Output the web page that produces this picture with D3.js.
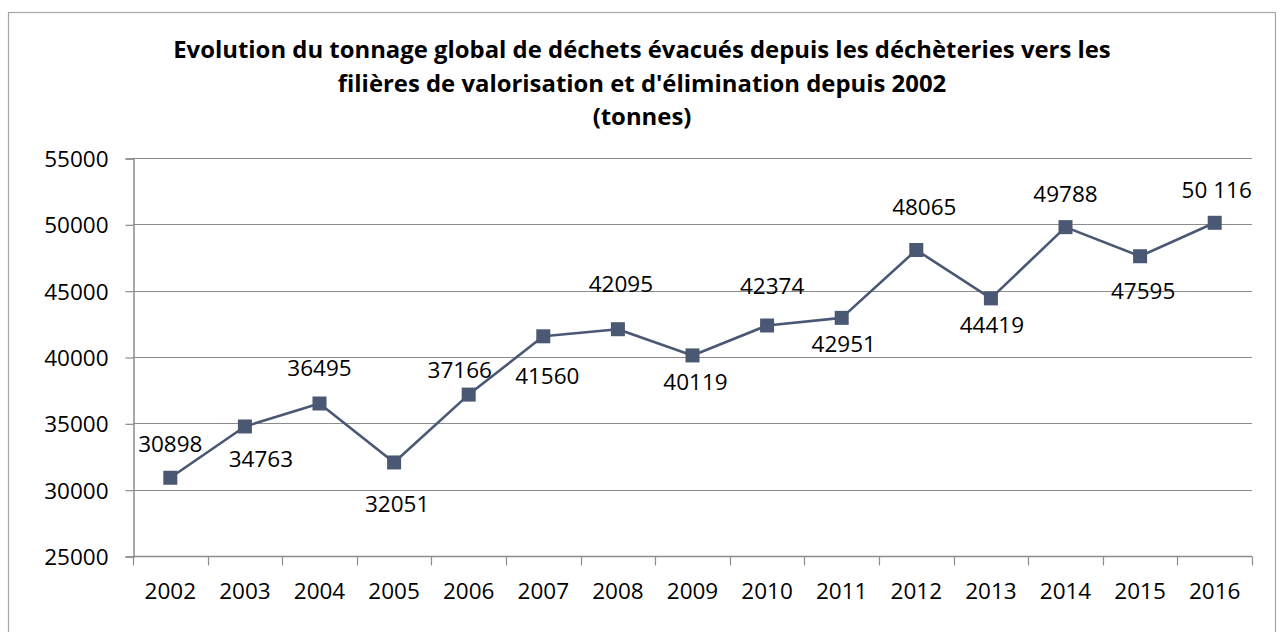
<!DOCTYPE html>
<html>
<head>
<meta charset="utf-8">
<script src="https://cdn.jsdelivr.net/npm/d3@7"></script>
<style>
  html, body { margin: 0; padding: 0; background: #fff; }
  svg { display: block; font-family: 'Open Sans', 'Noto Sans', sans-serif; }
</style>
</head>
<body>
<div id="chart"></div>
<script>
// data
const years = ['2002', '2003', '2004', '2005', '2006', '2007', '2008', '2009',
  '2010', '2011', '2012', '2013', '2014', '2015', '2016'];
const tonnage = [30898, 34763, 36495, 32051, 37166, 41560, 42095, 40119,
  42374, 42951, 48065, 44419, 49788, 47595, 50116];
const valueLabels = ['30898', '34763', '36495', '32051', '37166', '41560', '42095', '40119',
  '42374', '42951', '48065', '44419', '49788', '47595', '50 116'];
const yTicks = [25000, 30000, 35000, 40000, 45000, 50000, 55000];
const titleLines = [
  'Evolution du tonnage global de déchets évacués depuis les déchèteries vers les',
  "filières de valorisation et d'élimination depuis 2002",
  '(tonnes)'
];

// label nudges relative to each point (dx, dy of baseline), as placed in the original
const labelNudge = [[0, -26], [16, 41], [0, -27], [3, 50], [-9, -17], [4, 48], [3, -37], [3, 35],
  [5, -32], [2, 34], [8, -35], [1, 35], [0, -25], [3, 43], [2, -25]];

const W = 1284, H = 632;
const plot = { left: 133, right: 1252, top: 158, bottom: 556 };
const gridColor = '#8c8c8c';
const lineColor = '#4a5873';

const svg = d3.select('#chart').append('svg')
  .attr('width', W)
  .attr('height', H);

// outer chart border
svg.append('rect')
  .attr('x', 8.5).attr('y', 12.5)
  .attr('width', 1267).attr('height', 640)
  .attr('fill', 'none')
  .attr('stroke', '#a6a6a6')
  .attr('stroke-width', 1.2);

// title
const title = svg.append('g').attr('class', 'title')
  .style('font-weight', 'bold')
  .attr('text-anchor', 'middle');
const t0 = title.append('text').style('font-size', '20px').text(titleLines[0]);
const fs = 20 * 938 / t0.node().getComputedTextLength();
t0.remove();
const titleY = [58, 92, 125];
titleLines.forEach((s, i) => {
  title.append('text')
    .attr('x', 642)
    .attr('y', titleY[i])
    .style('font-size', fs + 'px')
    .attr('fill', '#000')
    .text(s);
});

// scales
const x = d3.scaleBand()
  .domain(years)
  .range([plot.left, plot.right]);

const y = d3.scaleLinear()
  .domain([25000, 55000])
  .range([plot.bottom, plot.top]);

// gridlines
svg.append('g')
  .selectAll('line')
  .data(yTicks.filter(d => d > 25000))
  .enter().append('line')
  .attr('x1', plot.left).attr('x2', plot.right)
  .attr('y1', d => Math.round(y(d)) + 0.5)
  .attr('y2', d => Math.round(y(d)) + 0.5)
  .attr('stroke', gridColor)
  .attr('stroke-width', 1.2);

// y axis
const yAxis = svg.append('g')
  .attr('transform', `translate(${plot.left + 0.5},0.5)`)
  .call(d3.axisLeft(y).tickValues(yTicks).tickSize(8).tickPadding(17)
    .tickFormat(d3.format('d')));
yAxis.select('.domain').attr('stroke', gridColor).attr('stroke-width', 1.5);
yAxis.selectAll('.tick line').attr('stroke', gridColor).attr('stroke-width', 1.2);
yAxis.selectAll('.tick text')
  .style('font-family', "'Open Sans', sans-serif")
  .style('font-size', '22.5px')
  .attr('fill', '#000')
  .attr('dy', '0.36em');

// x axis: ticks between categories
const xAxis = svg.append('g')
  .attr('transform', `translate(0,${plot.bottom + 0.5})`);
xAxis.append('line')
  .attr('x1', plot.left).attr('x2', plot.right)
  .attr('stroke', gridColor).attr('stroke-width', 1.5);
const bounds = years.map(d => x(d)).concat([x(years[years.length - 1]) + x.bandwidth()]);
xAxis.selectAll('line.tk')
  .data(bounds)
  .enter().append('line')
  .attr('class', 'tk')
  .attr('x1', d => Math.round(d) + 0.5).attr('x2', d => Math.round(d) + 0.5)
  .attr('y1', 0).attr('y2', 9)
  .attr('stroke', gridColor).attr('stroke-width', 1.2);
xAxis.selectAll('text')
  .data(years)
  .enter().append('text')
  .attr('x', d => x(d) + x.bandwidth() / 2)
  .attr('y', 42)
  .attr('text-anchor', 'middle')
  .style('font-size', '22.5px')
  .attr('fill', '#000')
  .text(d => d);

// line
const cx = (d, i) => x(years[i]) + x.bandwidth() / 2;
const line = d3.line()
  .x(cx)
  .y(d => y(d));

svg.append('path')
  .datum(tonnage)
  .attr('d', line)
  .attr('fill', 'none')
  .attr('stroke', lineColor)
  .attr('stroke-width', 2.6)
  .attr('stroke-linejoin', 'round');

// square markers
const ms = 14;
svg.selectAll('rect.marker')
  .data(tonnage)
  .enter().append('rect')
  .attr('class', 'marker')
  .attr('x', (d, i) => cx(d, i) - ms / 2)
  .attr('y', d => y(d) - ms / 2)
  .attr('width', ms).attr('height', ms)
  .attr('fill', lineColor);

// data labels
svg.selectAll('text.lbl')
  .data(tonnage)
  .enter().append('text')
  .attr('class', 'lbl')
  .attr('x', (d, i) => cx(d, i) + labelNudge[i][0])
  .attr('y', (d, i) => y(d) + labelNudge[i][1])
  .attr('text-anchor', 'middle')
  .style('font-size', '22.5px')
  .attr('fill', '#000')
  .text((d, i) => valueLabels[i]);
</script>
</body>
</html>
